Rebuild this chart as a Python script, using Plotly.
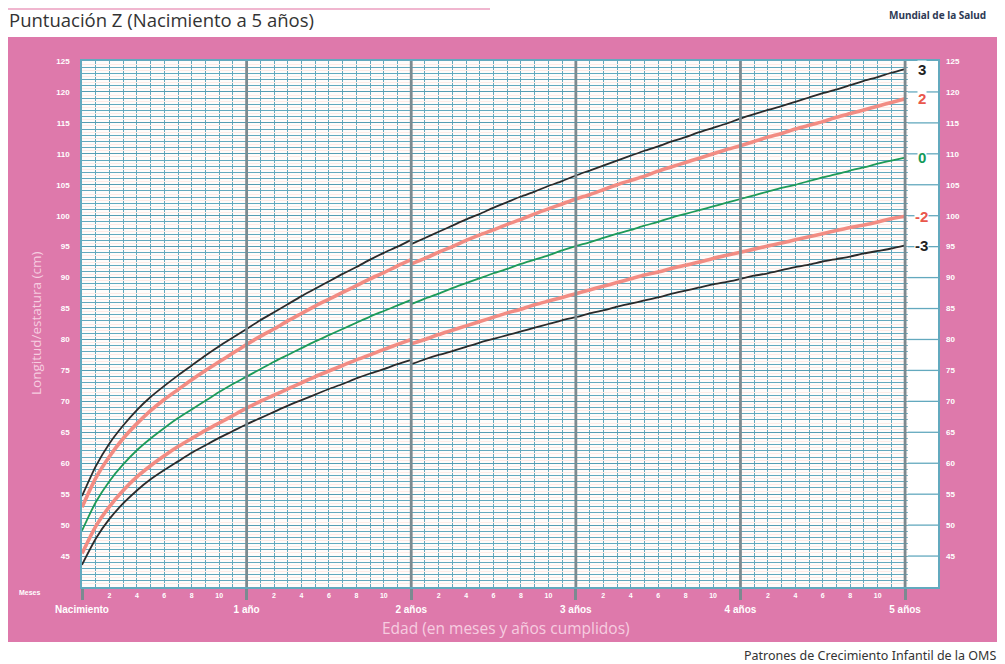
import plotly.graph_objects as go

# ---------------- data (WHO girls length/height-for-age, cm) ----------------
months_len = list(range(0, 25))          # length, birth to 24 months
months_hgt = list(range(24, 61))         # height, 24 to 60 months

m3_len = [43.6, 47.8, 51.0, 53.5, 55.6, 57.4, 58.9, 60.3, 61.7, 62.9, 64.1, 65.2, 66.3,
          67.3, 68.3, 69.3, 70.2, 71.1, 72.0, 72.8, 73.7, 74.5, 75.2, 76.0, 76.7]
m2_len = [45.4, 49.8, 53.0, 55.6, 57.8, 59.6, 61.2, 62.7, 64.0, 65.3, 66.5, 67.7, 68.9,
          70.0, 71.0, 72.0, 73.0, 74.0, 74.9, 75.8, 76.7, 77.5, 78.4, 79.2, 80.0]
med_len = [49.1, 53.7, 57.1, 59.8, 62.1, 64.0, 65.7, 67.3, 68.7, 70.1, 71.5, 72.8, 74.0,
           75.2, 76.4, 77.5, 78.6, 79.7, 80.7, 81.7, 82.7, 83.7, 84.6, 85.5, 86.4]
p2_len = [52.9, 57.6, 61.1, 64.0, 66.4, 68.5, 70.3, 71.9, 73.5, 75.0, 76.4, 77.8, 79.2,
          80.5, 81.7, 83.0, 84.2, 85.4, 86.5, 87.6, 88.7, 89.8, 90.8, 91.9, 92.9]
p3_len = [54.7, 59.5, 63.2, 66.1, 68.6, 70.7, 72.5, 74.2, 75.8, 77.4, 78.9, 80.3, 81.7,
          83.1, 84.4, 85.7, 87.0, 88.2, 89.4, 90.6, 91.7, 92.9, 94.0, 95.0, 96.1]

m3_hgt = [76.0, 76.8, 77.5, 78.1, 78.8, 79.5, 80.1, 80.7, 81.3, 81.9, 82.5, 83.1, 83.6,
          84.2, 84.7, 85.3, 85.8, 86.3, 86.8, 87.4, 87.9, 88.4, 88.9, 89.3, 89.8,
          90.3, 90.7, 91.2, 91.7, 92.1, 92.6, 93.0, 93.4, 93.9, 94.3, 94.7, 95.2]
m2_hgt = [79.3, 80.0, 80.8, 81.5, 82.2, 82.9, 83.6, 84.3, 84.9, 85.6, 86.2, 86.8, 87.4,
          88.0, 88.6, 89.2, 89.8, 90.4, 90.9, 91.5, 92.0, 92.5, 93.1, 93.6, 94.1,
          94.6, 95.1, 95.6, 96.1, 96.6, 97.1, 97.6, 98.1, 98.5, 99.0, 99.5, 99.9]
med_hgt = [85.7, 86.6, 87.4, 88.3, 89.1, 89.9, 90.7, 91.4, 92.2, 92.9, 93.6, 94.4, 95.1,
           95.7, 96.4, 97.1, 97.7, 98.4, 99.0, 99.7, 100.3, 100.9, 101.5, 102.1, 102.7,
           103.3, 103.9, 104.5, 105.0, 105.6, 106.2, 106.7, 107.3, 107.8, 108.4, 108.9, 109.4]
p2_hgt = [92.2, 93.1, 94.1, 95.0, 96.0, 96.9, 97.7, 98.6, 99.4, 100.3, 101.1, 101.9, 102.7,
          103.4, 104.2, 105.0, 105.7, 106.4, 107.2, 107.9, 108.6, 109.3, 110.0, 110.7, 111.3,
          112.0, 112.7, 113.3, 114.0, 114.6, 115.2, 115.9, 116.5, 117.1, 117.7, 118.3, 118.9]
p3_hgt = [95.4, 96.4, 97.4, 98.4, 99.4, 100.3, 101.3, 102.2, 103.1, 103.9, 104.8, 105.6, 106.5,
          107.3, 108.1, 108.9, 109.7, 110.5, 111.2, 112.0, 112.7, 113.5, 114.2, 114.9, 115.7,
          116.4, 117.1, 117.7, 118.4, 119.1, 119.8, 120.4, 121.1, 121.8, 122.4, 123.1, 123.7]

z_labels = ["3", "2", "0", "-2", "-3"]
year_ticks = [0, 12, 24, 36, 48, 60]
year_text = ["Nacimiento", "1 año", "2 años", "3 años", "4 años", "5 años"]
month_ticks = [m for m in range(2, 60, 2) if m % 12 != 0]
month_text = [str(m % 12) for m in month_ticks]
cm_ticks = list(range(45, 126, 5))

# ---------------- styling ----------------
PINK = "#DE79AB"
TEAL = "#63A9BE"
YEAR = "#7B8A90"
LIGHT = "#F6CDE0"
X_MAX = 62.4
OFF = 8                      # browser body margin
W, H = 1005 - OFF, 664 - OFF
PL, PR, PT, PB = 82 - OFF, 938 - OFF, 61 - OFF, 587 - OFF   # plot area in page px

series = [
    (p3_len, p3_hgt, "#2A2A2A", 1.8, "#222222"),
    (p2_len, p2_hgt, "#F28C83", 3.6, "#E9574C"),
    (med_len, med_hgt, "#1E9A58", 1.8, "#149A5A"),
    (m2_len, m2_hgt, "#F28C83", 3.6, "#E9574C"),
    (m3_len, m3_hgt, "#2A2A2A", 1.8, "#222222"),
]

fig = go.Figure()
for lv, hv, col, w, _ in series:
    fig.add_trace(go.Scatter(
        x=months_len + [None] + months_hgt,
        y=lv + [None] + hv,
        mode="lines", line=dict(color=col, width=w, shape="spline", smoothing=0.6),
        hoverinfo="skip", showlegend=False, connectgaps=False))

# helper traces so overlay axes are drawn
fig.add_trace(go.Scatter(x=[None], y=[None], xaxis="x2", yaxis="y2", showlegend=False, hoverinfo="skip"))
fig.add_trace(go.Scatter(x=[None], y=[None], xaxis="x", yaxis="y3", showlegend=False, hoverinfo="skip"))

# z-score labels at the right end
for (lv, hv, col, w, lc), lab in zip(series, z_labels):
    fig.add_annotation(x=61.2, y=hv[-1], text=lab, showarrow=False,
                       font=dict(family="Liberation Sans", size=15, color=lc, weight="bold"),
                       bgcolor="white", borderpad=0, xref="x", yref="y")

tickfont = dict(family="Liberation Sans", size=8, color="white", weight="bold")

fig.update_layout(
    width=W, height=H,
    margin=dict(l=PL, r=W - PR, t=PT, b=H - PB),
    paper_bgcolor=PINK,
    plot_bgcolor="#FFFCFB",
    xaxis=dict(range=[0, X_MAX], tickvals=year_ticks, ticktext=year_text,
               showgrid=False,
               ticks="outside", ticklen=11, tickwidth=2.8, tickcolor=YEAR,
               tickfont=dict(family="Liberation Sans", size=10, color="white", weight="bold"),
               ticklabelstandoff=1,
               minor=dict(dtick=1, tick0=0, showgrid=True, gridcolor=TEAL, gridwidth=1.2),
               showline=True, linecolor=TEAL, linewidth=1.5, mirror=True, zeroline=False,
               fixedrange=True),
    xaxis2=dict(range=[0, X_MAX], overlaying="x", side="bottom", anchor="y",
                tickvals=month_ticks, ticktext=month_text, showgrid=False,
                ticks="", tickfont=dict(family="Liberation Sans", size=7, color="white", weight="bold"),
                ticklabelstandoff=3, zeroline=False, showline=False),
    yaxis=dict(range=[40, 125], tickvals=cm_ticks, showgrid=True, gridcolor="#559DB3", gridwidth=1.4,
               ticks="", tickfont=tickfont, ticklabelstandoff=9,
               minor=dict(dtick=1, tick0=40, showgrid=True, gridcolor=TEAL, gridwidth=1.1),
               showline=True, linecolor=TEAL, linewidth=1.5, mirror=True, zeroline=False),
    yaxis2=dict(range=[40, 125], overlaying="y", side="right", anchor="x", tickvals=cm_ticks,
                showgrid=False, ticks="", tickfont=tickfont, ticklabelstandoff=7, zeroline=False),
    yaxis3=dict(range=[40, 125], overlaying="y", side="left", anchor="x", tick0=40.5, dtick=1,
                showgrid=True, gridcolor="#FDEBE7", gridwidth=1, showticklabels=False,
                ticks="", zeroline=False),
)

def px_x(p):
    return (p - OFF - PL) / float(PR - PL)

def px_y(p):
    return (PB - (p - OFF)) / float(PB - PT)

shapes = []
# white page around the pink panel (reference page coords)
for x0, x1, y0, y1 in [(0, 1010, 0, 37), (0, 1010, 642, 670), (0, 8, 0, 670), (1002, 1010, 0, 670)]:
    shapes.append(dict(type="rect", xref="paper", yref="paper", layer="below",
                       x0=px_x(x0), x1=px_x(x1), y0=px_y(y1), y1=px_y(y0),
                       fillcolor="white", line=dict(width=0)))
# thin pink header line
shapes.append(dict(type="line", xref="paper", yref="paper", layer="below",
                   x0=px_x(8), x1=px_x(490), y0=px_y(9), y1=px_y(9),
                   line=dict(color="#F0B6CF", width=2)))
# white strip beyond 5 years (no monthly grid)
shapes.append(dict(type="rect", xref="x", yref="y", layer="between",
                   x0=60.2, x1=X_MAX, y0=40, y1=125, fillcolor="white", line=dict(width=0)))
for v in cm_ticks[:-1]:
    shapes.append(dict(type="line", xref="x", yref="y", layer="between",
                       x0=60.2, x1=X_MAX, y0=v, y1=v, line=dict(color=TEAL, width=1.3)))
# thick year lines (drawn over the curves, as in the printed chart)
for yv in year_ticks[1:]:
    shapes.append(dict(type="line", xref="x", yref="y", layer="above",
                       x0=yv, x1=yv, y0=40, y1=125, line=dict(color=YEAR, width=2.8)))
fig.update_layout(shapes=shapes)

# texts
fig.add_annotation(xref="paper", yref="paper", x=px_x(7), y=px_y(20), xanchor="left", yanchor="middle",
                   text="Puntuación Z (Nacimiento a 5 años)", showarrow=False,
                   font=dict(family="Open Sans", size=18.5, color="#333333"))
fig.add_annotation(xref="paper", yref="paper", x=px_x(988), y=px_y(15), xanchor="right", yanchor="middle",
                   text="Mundial de la Salud", showarrow=False,
                   font=dict(family="Noto Sans", size=10, color="#2E3A55", weight="bold"))
fig.add_annotation(xref="paper", yref="paper", x=px_x(998), y=px_y(655), xanchor="right", yanchor="middle",
                   text="Patrones de Crecimiento Infantil de la OMS", showarrow=False,
                   font=dict(family="Noto Sans", size=12.5, color="#333333"))
fig.add_annotation(xref="paper", yref="paper", x=px_x(506), y=px_y(628), xanchor="center", yanchor="middle",
                   text="Edad (en meses y años cumplidos)", showarrow=False,
                   font=dict(family="Open Sans", size=15.5, color=LIGHT))
fig.add_annotation(xref="paper", yref="paper", x=px_x(36), y=px_y(324), xanchor="center", yanchor="middle",
                   text="Longitud/estatura (cm)", textangle=-90, showarrow=False,
                   font=dict(family="Open Sans", size=13.5, color=LIGHT))
fig.add_annotation(xref="paper", yref="paper", x=px_x(30), y=px_y(592), xanchor="center", yanchor="middle",
                   text="Meses", showarrow=False,
                   font=dict(family="Liberation Sans", size=7, color="white", weight="bold"))

fig.write_html("out.html")
